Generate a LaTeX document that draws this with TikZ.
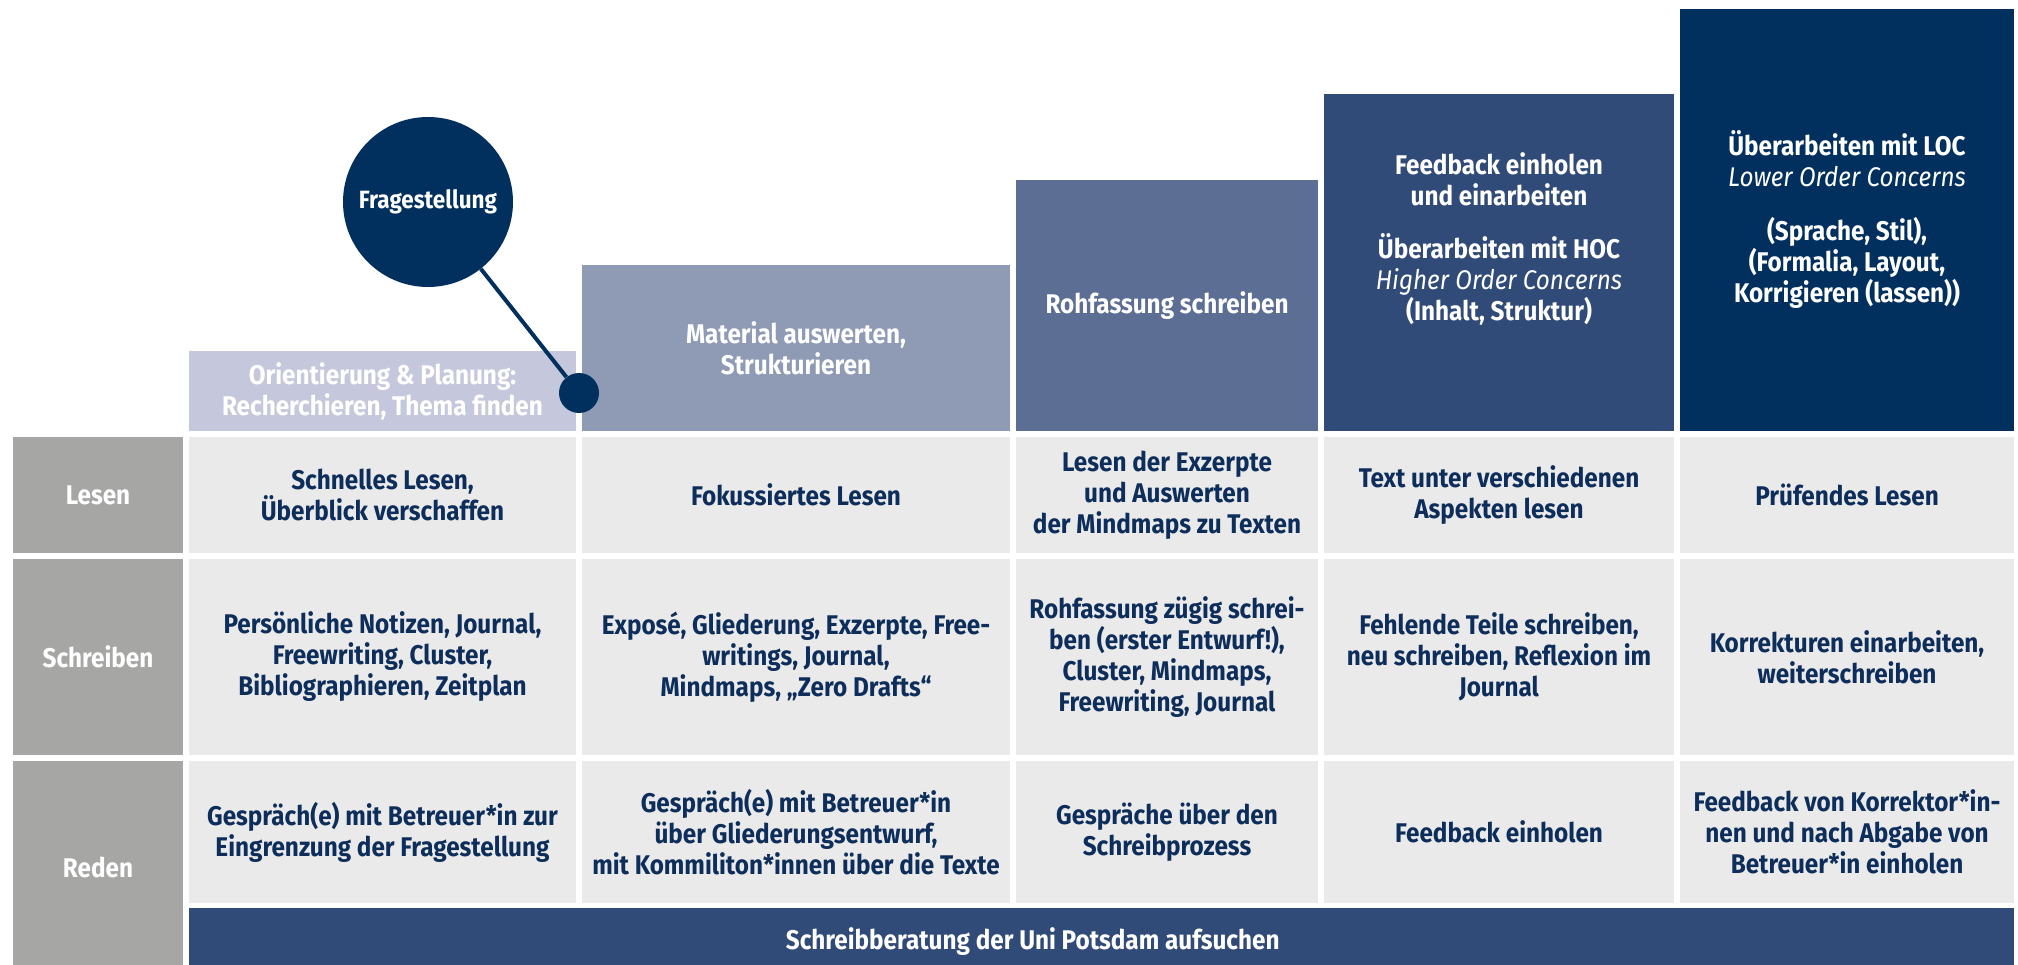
\documentclass[tikz,border=0pt]{standalone}
\usepackage{fontspec}
\setmainfont{Fira Sans}[FakeStretch=0.9]
\usepackage{tikz}
\usetikzlibrary{positioning}

\definecolor{phaseOne}{HTML}{C5C8DC}
\definecolor{phaseTwo}{HTML}{8F9AB5}
\definecolor{phaseThree}{HTML}{5D6E94}
\definecolor{phaseFour}{HTML}{314B78}
\definecolor{phaseFive}{HTML}{02305E}
\definecolor{labelGray}{HTML}{A6A6A5}
\definecolor{cellGray}{HTML}{EAEAEA}
\definecolor{cellText}{HTML}{0D2D5A}

\newcommand{\cellfont}{\fontsize{27}{31}\selectfont\bfseries}

\tikzstyle{cell} = [rectangle, inner sep=0pt, outer sep=0pt, fill=cellGray, text=cellText, font=\cellfont, align=center]
\tikzstyle{rowlabel} = [rectangle, inner sep=0pt, outer sep=0pt, fill=labelGray, text=white, font=\cellfont, minimum width=170pt]
\tikzstyle{phase} = [rectangle, inner sep=0pt, outer sep=0pt, text=white, font=\cellfont, align=center]
\tikzstyle{phasetext} = [text=white, font=\cellfont, align=center]
\tikzstyle{bubble} = [circle, inner sep=0pt, fill=phaseFive, text=white, font=\fontsize{25}{31}\selectfont\bfseries]
\tikzstyle{leader} = [line width=4pt, draw=phaseFive]
% column widths and row heights
\tikzstyle{colA} = [minimum width=387pt]
\tikzstyle{colB} = [minimum width=428pt]
\tikzstyle{colC} = [minimum width=302pt]
\tikzstyle{colD} = [minimum width=350pt]
\tikzstyle{colE} = [minimum width=334pt]
\tikzstyle{rowLesen} = [minimum height=116pt]
\tikzstyle{rowSchreiben} = [minimum height=196pt]
\tikzstyle{rowReden} = [minimum height=142pt]

\begin{document}
\begin{tikzpicture}[x=1pt, y=-1pt]
\useasboundingbox (0,0) rectangle (2018,965);

% row labels
\node (lesenLabel) [rowlabel, rowLesen, anchor=north west] at (13,437) {Lesen};
\node (schreibenLabel) [rowlabel, rowSchreiben, below=6pt of lesenLabel] {Schreiben};
\node (redenLabel) [rowlabel, minimum height=213pt, below=6pt of schreibenLabel] {Reden};

% Lesen
\node (lesenA) [cell, colA, rowLesen, right=6pt of lesenLabel] {Schnelles Lesen,\\ Überblick verschaffen};
\node (lesenB) [cell, colB, rowLesen, right=6pt of lesenA] {Fokussiertes Lesen};
\node (lesenC) [cell, colC, rowLesen, right=6pt of lesenB] {Lesen der Exzerpte\\ und Auswerten\\ der Mindmaps zu Texten};
\node (lesenD) [cell, colD, rowLesen, right=6pt of lesenC] {Text unter verschiedenen\\ Aspekten lesen};
\node (lesenE) [cell, colE, rowLesen, right=6pt of lesenD] {Prüfendes Lesen};

% Schreiben
\node (schreibenA) [cell, colA, rowSchreiben, below=6pt of lesenA] {Persönliche Notizen, Journal,\\ Freewriting, Cluster,\\ Bibliographieren, Zeitplan};
\node (schreibenB) [cell, colB, rowSchreiben, below=6pt of lesenB] {Exposé, Gliederung, Exzerpte, Free-\\ writings, Journal,\\ Mindmaps, „Zero Drafts“};
\node (schreibenC) [cell, colC, rowSchreiben, below=6pt of lesenC] {Rohfassung zügig schrei-\\ ben (erster Entwurf!),\\ Cluster, Mindmaps,\\ Freewriting, Journal};
\node (schreibenD) [cell, colD, rowSchreiben, below=6pt of lesenD] {Fehlende Teile schreiben,\\ neu schreiben, Reflexion im\\ Journal};
\node (schreibenE) [cell, colE, rowSchreiben, below=6pt of lesenE] {Korrekturen einarbeiten,\\ weiterschreiben};

% Reden
\node (redenA) [cell, colA, rowReden, below=6pt of schreibenA] {Gespräch(e) mit Betreuer*in zur\\ Eingrenzung der Fragestellung};
\node (redenB) [cell, colB, rowReden, below=6pt of schreibenB] {Gespräch(e) mit Betreuer*in\\ über Gliederungsentwurf,\\ mit Kommiliton*innen über die Texte};
\node (redenC) [cell, colC, rowReden, below=6pt of schreibenC] {Gespräche über den\\ Schreibprozess};
\node (redenD) [cell, colD, rowReden, below=6pt of schreibenD] {Feedback einholen};
\node (redenE) [cell, colE, rowReden, below=6pt of schreibenE] {Feedback von Korrektor*in-\\ nen und nach Abgabe von\\ Betreuer*in einholen};

% phases, rising to the right
\node (phaseA) [phase, colA, minimum height=80pt, fill=phaseOne, above=6pt of lesenA] {Orientierung \& Planung:\\ Recherchieren, Thema finden};
\node (phaseB) [phase, colB, minimum height=166pt, fill=phaseTwo, above=6pt of lesenB] {Material auswerten,\\ Strukturieren};
\node (phaseC) [phase, colC, minimum height=251pt, fill=phaseThree, above=6pt of lesenC] {Rohfassung schreiben};
\node (phaseD) [phase, colD, minimum height=337pt, fill=phaseFour, above=6pt of lesenD] {};
\node (phaseDText) [phasetext] at ([yshift=24pt]phaseD.center) {Feedback einholen\\ und einarbeiten\\[22pt] Überarbeiten mit HOC\\ {\mdseries\itshape Higher Order Concerns}\\ (Inhalt, Struktur)};
\node (phaseE) [phase, colE, minimum height=422pt, fill=phaseFive, above=6pt of lesenE] {Überarbeiten mit LOC\\ {\mdseries\itshape Lower Order Concerns}\\[23pt] (Sprache, Stil),\\ (Formalia, Layout,\\ Korrigieren (lassen))};

% bottom bar
\node (beratung) [rectangle, inner sep=0pt, fill=phaseFour, minimum width=1825pt, minimum height=66pt, anchor=north west] at ([yshift=-5pt]redenA.south west) {};
\node (beratungText) [phasetext] at ([xshift=-69pt]beratung.center) {Schreibberatung der Uni Potsdam aufsuchen};

% Fragestellung bubble
\node (frage) [bubble, minimum size=170pt] at (428,202) {Fragestellung};
\node (pin) [bubble, minimum size=40pt] at (579,393) {};
\draw [leader] (frage) -- (pin);
\end{tikzpicture}
\end{document}
